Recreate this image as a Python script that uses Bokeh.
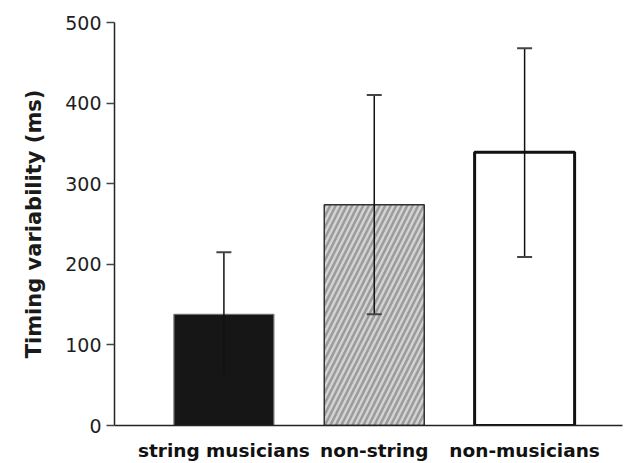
from bokeh.plotting import figure
from bokeh.models import ColumnDataSource, Range1d, FixedTicker, Whisker, TeeHead
from bokeh.core.properties import field
from bokeh.embed import file_html
from bokeh.resources import INLINE

# ---- data ----
groups = ["string musicians", "non-string", "non-musicians"]
means = [138, 274, 339]
err_upper = [215, 410, 468]
err_lower = [61, 138, 209]
y_ticks = [0, 100, 200, 300, 400, 500]

positions = [1, 2, 3]
fills = ["#161616", "#d4d4d4", "#ffffff"]
outlines = ["#7a7a7a", "#333333", "#111111"]
outline_w = [1.2, 1.5, 3.0]
hatches = [" ", "/", " "]
lower_cap_colors = ["#161616", "#444444", "#444444"]

FONT = "DejaVu Sans"

p = figure(width=635, height=463, output_backend="svg", toolbar_location=None,
           x_range=Range1d(0.2724, 3.651), y_range=Range1d(0, 500),
           min_border_left=114, min_border_right=13, min_border_top=22, min_border_bottom=32)
p.outline_line_color = None
p.grid.visible = False
p.background_fill_color = "white"
p.border_fill_color = "white"

src = ColumnDataSource(dict(x=positions, top=means, fill=fills, line=outlines, lw=outline_w,
                            hatch=hatches, upper=err_upper, lower=err_lower,
                            lcap=lower_cap_colors))
p.vbar(x="x", top="top", width=0.665, source=src, fill_color="fill", line_color="line",
       line_width="lw", hatch_pattern="hatch", hatch_color="#9c9c9c", hatch_scale=11,
       hatch_weight=2.6)

w = Whisker(base="x", upper="upper", lower="lower", source=src, line_color="#111111",
            line_width=1.5, level="overlay",
            upper_head=TeeHead(size=15, line_color="#444444", line_width=2),
            lower_head=TeeHead(size=15, line_color=field("lcap"), line_width=2))
p.add_layout(w)

# y axis
ya = p.yaxis[0]
ya.ticker = FixedTicker(ticks=y_ticks)
ya.axis_label = "Timing variability (ms)"
ya.axis_label_text_font = FONT
ya.axis_label_text_font_style = "bold"
ya.axis_label_text_font_size = "21px"
ya.axis_label_text_color = "#1a1a1a"
ya.axis_label_standoff = 16
ya.major_label_text_font = FONT
ya.major_label_text_font_size = "19px"
ya.major_label_text_color = "#1e1e1e"
ya.major_label_standoff = 5
ya.major_tick_out = 8
ya.major_tick_in = 0
ya.minor_tick_line_color = None
ya.axis_line_width = 1.5
ya.axis_line_color = "#222222"
ya.major_tick_line_color = "#444444"
ya.major_tick_line_width = 1.5

# x axis
xa = p.xaxis[0]
xa.ticker = FixedTicker(ticks=positions)
xa.major_label_overrides = {pos: name for pos, name in zip(positions, groups)}
xa.major_label_text_font = FONT
xa.major_label_text_font_style = "bold"
xa.major_label_text_font_size = "18.5px"
xa.major_label_text_color = "#111111"
xa.major_label_standoff = 8
xa.major_tick_line_color = None
xa.minor_tick_line_color = None
xa.axis_line_width = 1.5
xa.axis_line_color = "#222222"

open("out.html", "w").write(file_html(p, INLINE))
